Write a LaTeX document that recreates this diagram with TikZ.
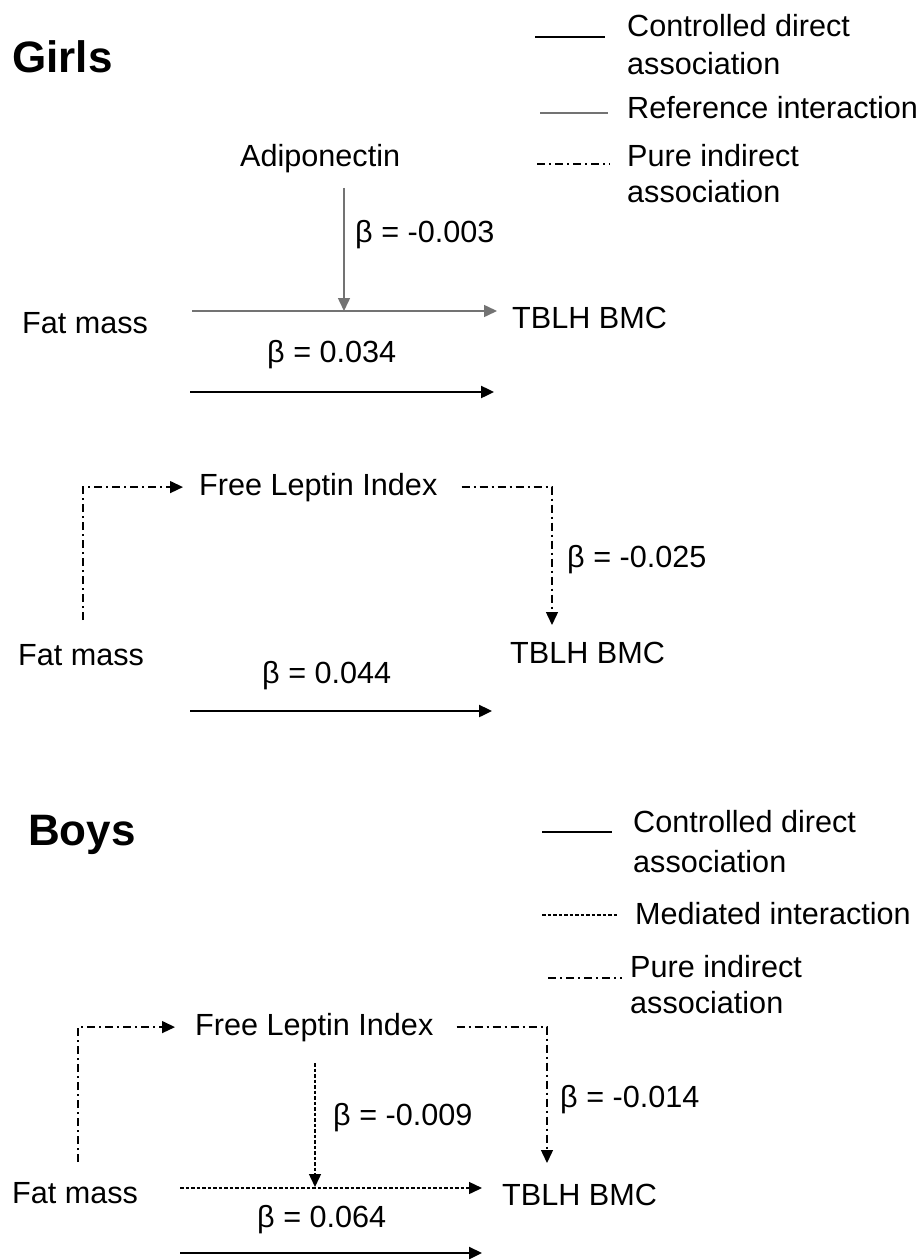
\documentclass[tikz,border=0pt]{standalone}
\usepackage{fontspec}
\setmainfont{Liberation Sans}
\usetikzlibrary{arrows.meta}

\begin{document}
\begin{tikzpicture}[
    x=1pt, y=-1pt,
    >={Triangle[length=13pt,width=12pt]},
    label/.style={inner sep=0pt, anchor=base west, font=\fontsize{30.6}{36}\selectfont},
    title/.style={inner sep=0pt, anchor=base west, font=\fontsize{44}{52}\selectfont\bfseries},
    direct/.style={line width=2.4pt},
    refline/.style={line width=1.5pt, draw=black!55},
    indirect/.style={line width=1.4pt, dash pattern=on 8pt off 4pt on 2pt off 4pt},
    mediated/.style={line width=1.4pt, dash pattern=on 3.5pt off 2pt}
]
\fill[white] (0,0) rectangle (920,1260);
\useasboundingbox (0,0) rectangle (920,1260);

% Girls legend
\node[title] (girls) at (12,73) {Girls};
\node[label] (gleg1) at (627,37) {Controlled direct};
\node[label] (gleg1b) at ([yshift=-38pt]gleg1.base west) {association};
\node[label] (gleg2) at (627,119) {Reference interaction};
\node[label] (gleg3) at (627,167) {Pure indirect};
\node[label] (gleg3b) at ([yshift=-36pt]gleg3.base west) {association};
\draw[direct] ([xshift=-92pt]gleg1.base west) -- ++(70,0);
\draw[refline] ([xshift=-87pt,yshift=6pt]gleg2.base west) -- ++(68,0);
\draw[indirect] ([xshift=-90pt,yshift=3pt]gleg3.base west) -- ++(73,0);

% Girls: adiponectin interaction
\node[label] (gadipo) at (240,167) {Adiponectin};
\node[label] (gfm1) at (22,333) {Fat mass};
\node[label] (gbmc1) at (512,328) {TBLH BMC};
\node[label] (gb1) at (355,242) {β = -0.003};
\node[label] (gb2) at (267,362) {β = 0.034};
\coordinate (gadj) at (344,188);
\coordinate (gint) at (344,311);
\coordinate (g1a) at (192,311);
\coordinate (g1b) at (497,311);
\coordinate (g2a) at (190,392);
\coordinate (g2b) at (494,392);
\draw[refline, ->] (g1a) -- (g1b);
\draw[refline, ->] (gadj) -- (gint);
\draw[direct, ->] (g2a) -- (g2b);

% Girls: free leptin index
\node[label] (gfli) at (199,495) {Free Leptin Index};
\node[label] (gfm2) at (18,665) {Fat mass};
\node[label] (gbmc2) at (510,663) {TBLH BMC};
\node[label] (gb3) at (567,567) {β = -0.025};
\node[label] (gb4) at (262,683) {β = 0.044};
\coordinate (gup) at (83,620);
\coordinate (gdown) at (552,625);
\coordinate (g3a) at (190,711);
\coordinate (g3b) at (492,711);
\draw[indirect, ->] (gup) |- ([xshift=-16pt]gfli.west);
\draw[indirect, ->] ([xshift=24pt]gfli.east) -| (gdown);
\draw[direct, ->] (g3a) -- (g3b);

% Boys legend
\node[title] (boys) at (28,845) {Boys};
\node[label] (bleg1) at (633,832) {Controlled direct};
\node[label] (bleg1b) at ([yshift=-40pt]bleg1.base west) {association};
\node[label] (bleg2) at (635,924) {Mediated interaction};
\node[label] (bleg3) at (630,977) {Pure indirect};
\node[label] (bleg3b) at ([yshift=-36pt]bleg3.base west) {association};
\draw[direct] ([xshift=-91pt]bleg1.base west) -- ++(70,0);
\draw[mediated] ([xshift=-93pt,yshift=9pt]bleg2.base west) -- ++(75,0);
\draw[indirect] ([xshift=-82pt,yshift=-1pt]bleg3.base west) -- ++(74,0);

% Boys: free leptin index
\node[label] (bfli) at (195,1035) {Free Leptin Index};
\node[label] (bfm) at (12,1203) {Fat mass};
\node[label] (bbmc) at (502,1205) {TBLH BMC};
\node[label] (bb1) at (333,1125) {β = -0.009};
\node[label] (bb2) at (560,1107) {β = -0.014};
\node[label] (bb3) at (257,1227) {β = 0.064};
\coordinate (bup) at (78,1162);
\coordinate (bdown) at (547,1163);
\coordinate (bmtop) at (315,1063);
\coordinate (bmint) at (315,1187);
\coordinate (b1a) at (180,1188);
\coordinate (b1b) at (482,1188);
\coordinate (b2a) at (180,1253);
\coordinate (b2b) at (482,1253);
\draw[indirect, ->] (bup) |- ([xshift=-20pt]bfli.west);
\draw[indirect, ->] ([xshift=23pt]bfli.east) -| (bdown);
\draw[mediated, ->] (bmtop) -- (bmint);
\draw[mediated, ->] (b1a) -- (b1b);
\draw[direct, ->] (b2a) -- (b2b);

\end{tikzpicture}
\end{document}
